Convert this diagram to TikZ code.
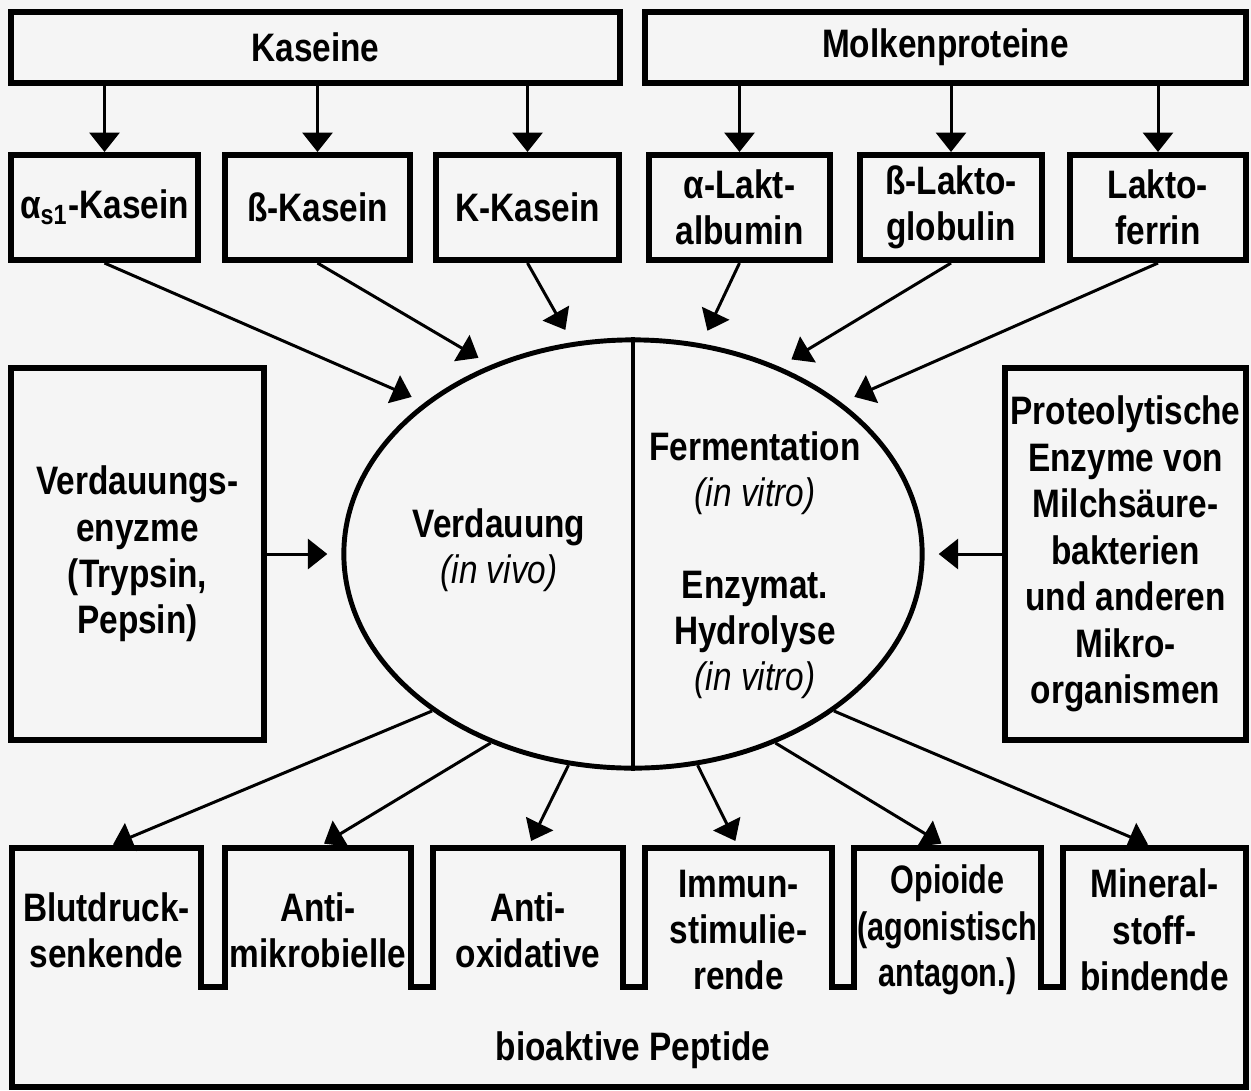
\documentclass[tikz,border=0pt]{standalone}
\usepackage{fontspec}
\setmainfont{Liberation Sans}[FakeStretch=0.84]
\usetikzlibrary{arrows.meta,shapes.geometric}

\begin{document}
\begin{tikzpicture}[x=0.01cm, y=-0.01cm,
    font=\fontsize{11.3}{13.2}\selectfont\bfseries,
    box/.style={draw, line width=1.7pt, inner sep=1pt, align=center},
    tab/.style={minimum width=1.8cm, minimum height=1.64cm, inner sep=0pt, align=center},
    txt/.style={align=center},
    pfeil/.style={-{Triangle[width=8.5pt,length=5.5pt]}, line width=0.85pt}]

  % Hintergrund
  \fill[black!4] (0,0) rectangle (1251,1090);
  \useasboundingbox (0,0) rectangle (1251,1090);

  % Proteingruppen
  \node[box, minimum width=6.09cm, minimum height=0.71cm] (kas) at (315.5,47.5) {Kaseine};
  \node[box, minimum width=6.01cm, minimum height=0.71cm] (molk) at (945.5,47.5) {Molkenproteine};

  % Einzelne Proteine
  \node[box, minimum width=1.87cm, minimum height=1.05cm] (as1) at (104.5,207.5) {α\textsubscript{s1}-Kasein};
  \node[box, minimum width=1.85cm, minimum height=1.05cm] (bkas) at (317.5,207.5) {ß-Kasein};
  \node[box, minimum width=1.83cm, minimum height=1.05cm] (kkas) at (527.5,207.5) {Κ-Kasein};
  \node[box, minimum width=1.81cm, minimum height=1.05cm] (alak) at (739.5,207.5) {α-Lakt-\\albumin};
  \node[box, minimum width=1.82cm, minimum height=1.05cm] (blak) at (951,207.5) {ß-Lakto-\\globulin};
  \node[box, minimum width=1.76cm, minimum height=1.05cm] (lakf) at (1158,207.5) {Lakto-\\ferrin};

  \draw[pfeil] (kas.south -| as1.north) -- (as1.north);
  \draw[pfeil] (kas.south -| bkas.north) -- (bkas.north);
  \draw[pfeil] (kas.south -| kkas.north) -- (kkas.north);
  \draw[pfeil] (molk.south -| alak.north) -- (alak.north);
  \draw[pfeil] (molk.south -| blak.north) -- (blak.north);
  \draw[pfeil] (molk.south -| lakf.north) -- (lakf.north);

  % Prozess in der Mitte
  \node[draw, ellipse, line width=1.4pt, minimum width=5.78cm, minimum height=4.28cm, inner sep=0pt] (proz) at (633,554) {};
  \draw[line width=1.1pt] (proz.north) -- (proz.south);

  \node[txt] (vivo) at (499,550) {Verdauung\\{\mdseries\itshape (in vivo)}};
  \node[txt] (ferm) at (755,473) {Fermentation\\{\mdseries\itshape (in vitro)}};
  \node[txt] (hydr) at (755,635) {Enzymat.\\Hydrolyse\\{\mdseries\itshape (in vitro)}};

  % Enzyme links und rechts
  \node[box, minimum width=2.53cm, minimum height=3.71cm] (enz) at (137.5,554) {Verdauungs-\\enyzme\\(Trypsin,\\Pepsin)};
  \node[box, minimum width=2.41cm, minimum height=3.71cm] (prot) at (1125.5,554) {Proteolytische\\Enzyme von\\Milchsäure-\\bakterien\\und anderen\\Mikro-\\organismen};

  \draw[pfeil, shorten >=4pt] (enz.east) -- (proz.west);
  \draw[pfeil, shorten >=4pt] (prot.west) -- (proz.east);

  \draw[pfeil, shorten >=4pt] (as1.south) -- (proz.144);
  \draw[pfeil, shorten >=4pt] (bkas.south) -- (proz.127);
  \draw[pfeil, shorten >=4pt] (kkas.south) -- (proz.106);
  \draw[pfeil, shorten >=4pt] (alak.south) -- (proz.72);
  \draw[pfeil, shorten >=4pt] (blak.south) -- (proz.52);
  \draw[pfeil, shorten >=4pt] (lakf.south) -- (proz.36);

  % Bioaktive Peptide
  \draw[line width=1.7pt] (12,1087) -- (12,848) -- (201,848) -- (201,987) -- (225,987) -- (225,848)
    -- (411,848) -- (411,987) -- (433,987) -- (433,848) -- (623,848) -- (623,987) -- (645,987)
    -- (645,848) -- (832,848) -- (832,987) -- (854,987) -- (854,848) -- (1041,848) -- (1041,987)
    -- (1063,987) -- (1063,848) -- (1246,848) -- (1246,1087) -- cycle;

  \node[tab] (b1) at (106.5,930) {Blutdruck-\\senkende};
  \node[tab] (b2) at (318,930) {Anti-\\mikrobielle};
  \node[tab] (b3) at (528,930) {Anti-\\oxidative};
  \node[tab] (b4) at (738.5,930) {Immun-\\stimulie-\\rende};
  \node[tab, font=\fontsize{11.3}{13.2}\selectfont\bfseries\addfontfeature{FakeStretch=0.77}] (b5) at (947.5,930) {Opioide\\(agonistisch\\antagon.)};
  \node[tab] (b6) at (1154.5,930) {Mineral-\\stoff-\\bindende};
  \node (bio) at (633,1050) {bioaktive Peptide};

  \draw[pfeil, shorten >=2pt] (proz.218) -- (b1.north);
  \draw[pfeil, shorten >=2pt] (proz.233) -- (b2.north);
  \draw[pfeil, shorten >=2pt] (proz.253) -- (b3.north);
  \draw[pfeil, shorten >=2pt] (proz.287) -- (b4.north);
  \draw[pfeil, shorten >=2pt] (proz.307) -- (b5.north);
  \draw[pfeil, shorten >=2pt] (proz.322) -- (b6.north);

\end{tikzpicture}
\end{document}
